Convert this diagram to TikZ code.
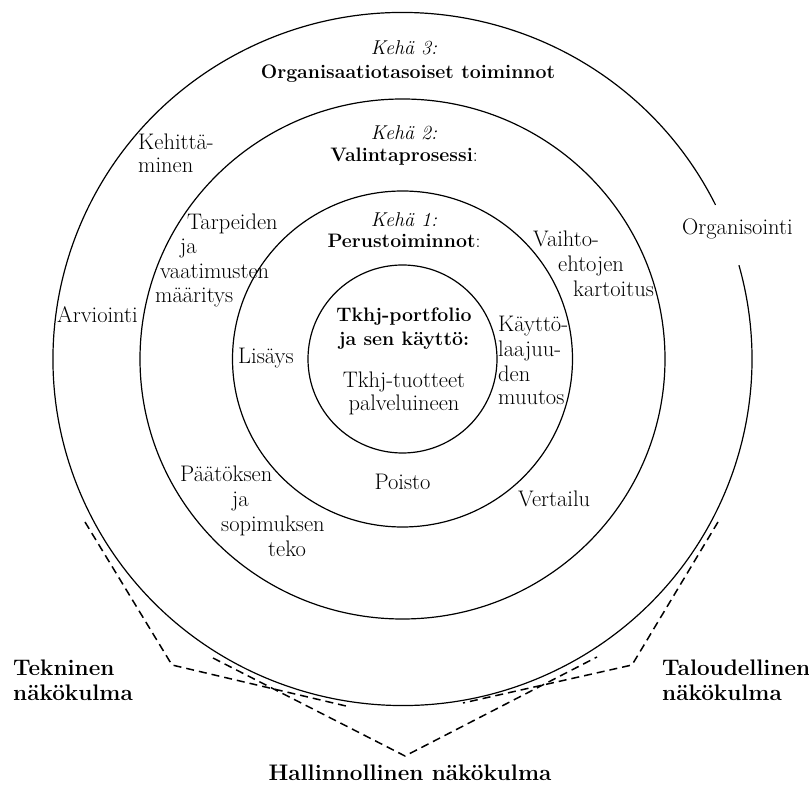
\documentclass[tikz,border=0pt]{standalone}
\usepackage{fontspec}
\usetikzlibrary{calc}
\begin{document}
\begin{tikzpicture}[x=1pt,y=1pt,
  ring/.style={line width=1.2pt},
  view/.style={line width=1.5pt, dash pattern=on 8pt off 5pt, line join=miter},
  lbl/.style={inner sep=0pt, font=\fontsize{22.5}{24}\selectfont},
  lw/.style={lbl, anchor=base west},
  lc/.style={lbl, anchor=base},
  kehä/.style={inner sep=0pt, anchor=base, font=\fontsize{20}{24}\selectfont\itshape},
  ttl/.style={inner sep=0pt, anchor=base, font=\fontsize{19.5}{24}\selectfont},
  vp/.style={inner sep=0pt, font=\fontsize{22.5}{24}\selectfont\bfseries},
]
\useasboundingbox (0,0) rectangle (809,785);
\coordinate (c) at (402.5,426);

% concentric rings
\draw[ring] (c) ellipse [x radius=94.5, y radius=94];
\draw[ring] (c) ellipse [x radius=170, y radius=168];
\draw[ring] (c) ellipse [x radius=262.5, y radius=260];
% outer ring, open on the right behind "Organisointi"
\draw[ring] ($(c)+(26.4:349.5 and 346.5)$)
  arc[start angle=26.4, end angle=375.7, x radius=349.5, y radius=346.5];

% viewpoint wedges
\coordinate (t1) at (85,263);
\coordinate (t2) at (172,120);
\coordinate (t3) at (346,79);
\coordinate (h1) at (213,127);
\coordinate (h2) at (405,29);
\coordinate (h3) at (597,128);
\coordinate (e1) at (718,263);
\coordinate (e2) at (632,120);
\coordinate (e3) at (463,82);
\draw[view] (t1) -- (t2) -- (t3);
\draw[view] (h1) -- (h2) -- (h3);
\draw[view] (e1) -- (e2) -- (e3);

% ring titles
\node[kehä] (k3a) at (404,730) {Kehä 3:};
\node[ttl] (k3b) at (408,706) {\bfseries Organisaatiotasoiset toiminnot};
\node[kehä] (k2a) at (404,645) {Kehä 2:};
\node[ttl] (k2b) at (404,623) {\textbf{Valintaprosessi}:};
\node[kehä] (k1a) at (404,558) {Kehä 1:};
\node[ttl] (k1b) at (404,537) {\textbf{Perustoiminnot}:};

% core
\node[ttl] (p1) at (404,463) {\bfseries Tkhj-portfolio};
\node[ttl] (p2) at (404,439) {\bfseries ja sen käyttö:};
\node[lc] (p3) at (404,397) {Tkhj-tuotteet};
\node[lc] (p4) at (404,374) {palveluineen};

% ring 1 activities
\node[lw] (lis) at (238,421) {Lisäys};
\node[lc] (poi) at (402.5,295) {Poisto};
\node[lw] (ka1) at (498,453) {Käyttö-};
\node[lw] (ka2) at (498,428) {laajuu-};
\node[lw] (ka3) at (498,403) {den};
\node[lw] (ka4) at (498,380) {muutos};

% ring 2 activities
\node[lw] (ta1) at (187,555) {Tarpeiden};
\node[lw] (ta2) at (180,531) {ja};
\node[lw] (ta3) at (160,506) {vaatimusten};
\node[lw] (ta4) at (155,482) {määritys};
\node[lw] (va1) at (533,538) {Vaihto-};
\node[lw] (va2) at (558,513) {ehtojen};
\node[lw] (va3) at (573,488) {kartoitus};
\node[lw] (pa1) at (180,303) {Päätöksen};
\node[lw] (pa2) at (232,278) {ja};
\node[lw] (pa3) at (221,253) {sopimuksen};
\node[lw] (pa4) at (268,228) {teko};
\node[lw] (ver) at (518,278) {Vertailu};

% ring 3 activities
\node[lw] (ke1) at (138,635) {Kehittä-};
\node[lw] (ke2) at (138,612) {minen};
\node[lw] (arv) at (57,462) {Arviointi};
\node[lw] (org) at (682,550) {Organisointi};

% viewpoints
\node[vp, anchor=base west] (te1) at (13,109) {Tekninen};
\node[vp, anchor=base west] (te2) at (13,84) {näkökulma};
\node[vp, anchor=base west] (tl1) at (662,109) {Taloudellinen};
\node[vp, anchor=base west] (tl2) at (662,84) {näkökulma};
\node[vp, anchor=base] (hal) at (410,5) {Hallinnollinen näkökulma};
\end{tikzpicture}
\end{document}
